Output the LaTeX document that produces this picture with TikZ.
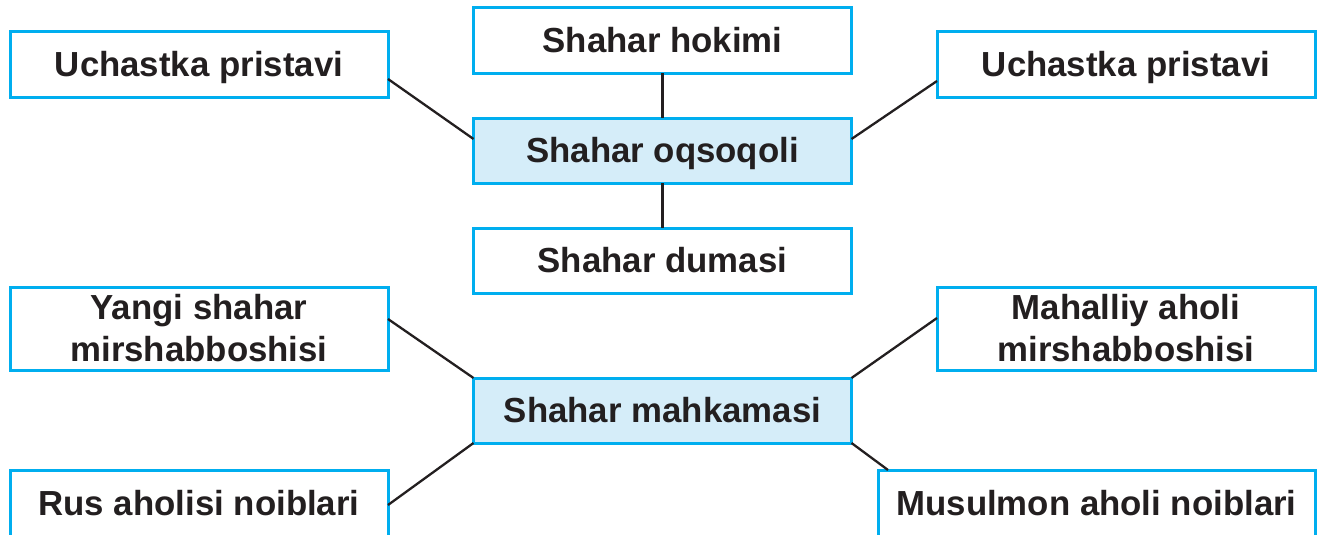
\documentclass[tikz,border=0pt]{standalone}
\usepackage{fontspec}
\setmainfont{Liberation Sans}
\definecolor{bcyan}{HTML}{00AEEF}
\definecolor{lblue}{HTML}{D5EDF9}
\definecolor{ink}{HTML}{231F20}
\begin{document}
\begin{tikzpicture}[x=1pt,y=-1pt,
  box/.style={draw=bcyan,line width=3pt,fill=white,rectangle,outer sep=0pt,inner sep=0pt,
    minimum width=378pt,minimum height=65pt,align=center,text=ink,
    font=\fontsize{34.8}{42}\selectfont\bfseries},
  sbox/.style={box,text height=24pt,text depth=0pt},
  hbox/.style={sbox,fill=lblue},
  conn/.style={draw=ink,line width=2.3pt}]
\useasboundingbox (0,0) rectangle (1319,535);
\clip (0,0) rectangle (1319,535);
\node[sbox] (hok) at (662.5,40.5) {Shahar hokimi};
\node[sbox] (ucl) at (199,64.5) {Uchastka pristavi};
\node[sbox] (ucr) at (1126,64.5) {Uchastka pristavi};
\node[hbox] (oqs) at (662.5,150.5) {Shahar oqsoqoli};
\node[sbox] (dum) at (662.5,260.5) {Shahar dumasi};
\node[box,minimum height=83pt] (yan) at (199,328.5) {Yangi shahar\\mirshabboshisi};
\node[box,minimum height=83pt] (mah) at (1126,328.5) {Mahalliy aholi\\mirshabboshisi};
\node[hbox] (mahk) at (662.5,410.5) {Shahar mahkamasi};
\node[sbox,minimum height=66pt] (rus) at (199,503) {Rus aholisi noiblari};
\node[sbox,minimum height=66pt,minimum width=437pt] (mus) at (1096.5,503) {Musulmon aholi noiblari};
\draw[conn] ([yshift=-14.5pt]ucl.east) -- ([yshift=11.5pt]oqs.west);
\draw[conn] ([yshift=11.5pt]oqs.east) -- ([yshift=-16.5pt]ucr.west);
\draw[conn] (hok.south) -- (oqs.north);
\draw[conn] (oqs.south) -- (dum.north);
\draw[conn] ([yshift=9.5pt]yan.east) -- (mahk.north west);
\draw[conn] (mahk.north east) -- ([yshift=10.5pt]mah.west);
\draw[conn] (mahk.south west) -- ([yshift=-2pt]rus.east);
\draw[conn] (mahk.south east) -- ([xshift=10pt]mus.north west);
\end{tikzpicture}
\end{document}
